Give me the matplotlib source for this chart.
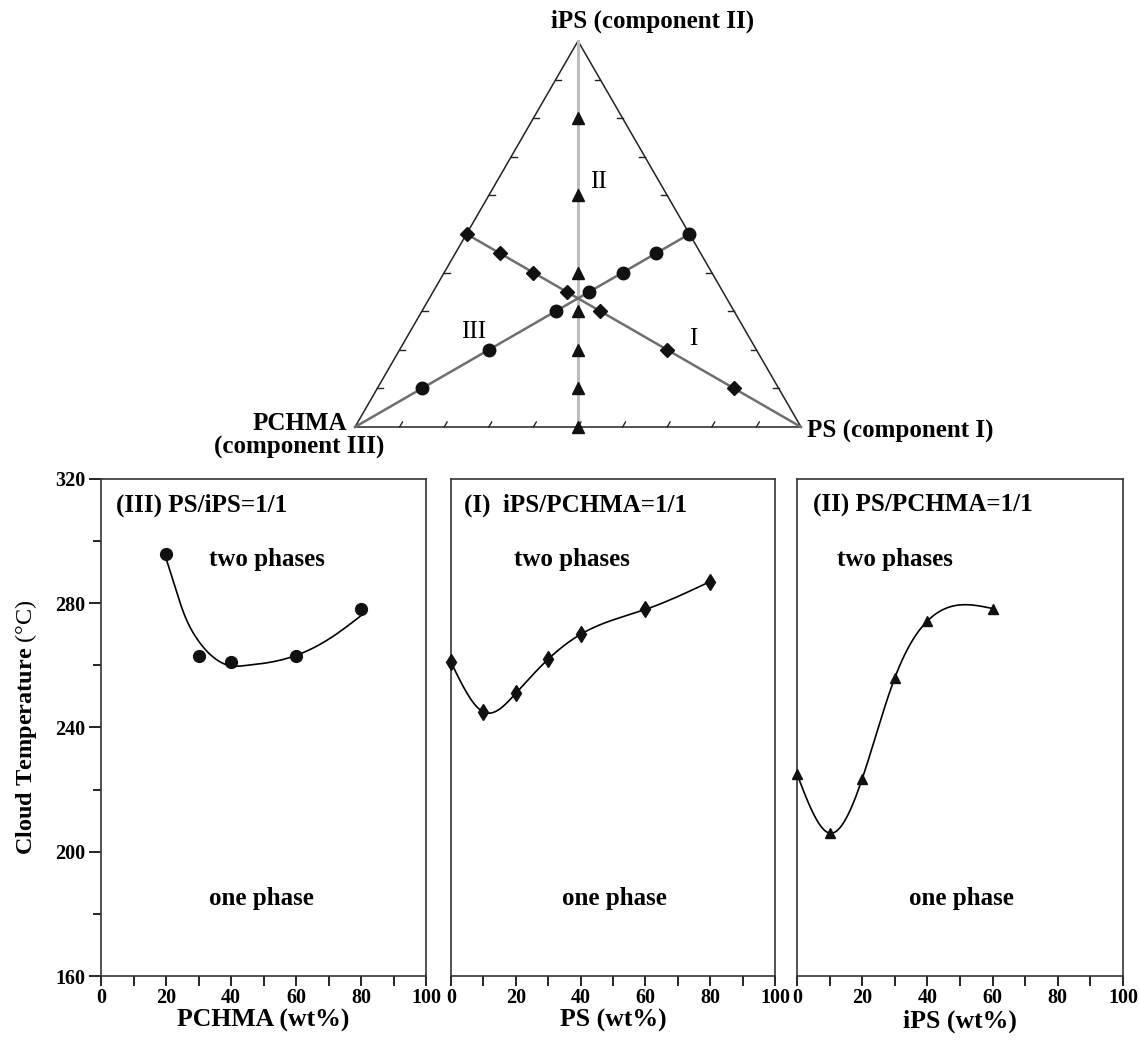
import numpy as np
import matplotlib
matplotlib.use("Agg")
import matplotlib.pyplot as plt

plt.rcParams['font.family'] = ['Liberation Serif', 'DejaVu Serif']
plt.rcParams['mathtext.fontset'] = 'custom'
plt.rcParams['mathtext.rm'] = 'Liberation Serif'

# ---------------- data ----------------
# Ternary compositions (wt% of the varied component along each line)
tern_levels = [0, 10, 20, 30, 40, 60, 80]

# Panel (III): PS/iPS = 1/1, PCHMA varies
pchma_x = [20, 30, 40, 60, 80]
pchma_T = [296, 263, 261, 263, 278]
# fitted curve
pchma_fit_x = [20, 22.4, 25.4, 29.5, 34.6, 39.7, 44.8, 50.9, 60.0, 71.2, 80.0]
pchma_fit_T = [294.5, 286.5, 277.0, 268.6, 262.6, 259.9, 260.0, 260.8, 263.2, 269.2, 276.0]

# Panel (I): iPS/PCHMA = 1/1, PS varies
ps_x = [0, 10, 20, 30, 40, 60, 80]
ps_T = [261, 245, 251, 262, 270, 278, 287]

# Panel (II): PS/PCHMA = 1/1, iPS varies
ips_x = [0, 10, 20, 30, 40, 60]
ips_T = [225, 206, 223.5, 256, 274.3, 278.3]

x_ticks = [0, 20, 40, 60, 80, 100]
y_ticks = [160, 200, 240, 280, 320]


def natural_spline(x, y, xs):
    x = np.asarray(x, float); y = np.asarray(y, float)
    n = len(x); h = np.diff(x)
    A = np.zeros((n, n)); r = np.zeros(n)
    A[0, 0] = A[-1, -1] = 1
    for i in range(1, n - 1):
        A[i, i - 1] = h[i - 1]; A[i, i] = 2 * (h[i - 1] + h[i]); A[i, i + 1] = h[i]
        r[i] = 3 * ((y[i + 1] - y[i]) / h[i] - (y[i] - y[i - 1]) / h[i - 1])
    c = np.linalg.solve(A, r)
    b = (y[1:] - y[:-1]) / h - h * (2 * c[:-1] + c[1:]) / 3
    d = (c[1:] - c[:-1]) / (3 * h)
    idx = np.clip(np.searchsorted(x, xs) - 1, 0, n - 2)
    dx = xs - x[idx]
    return y[idx] + b[idx] * dx + c[idx] * dx ** 2 + d[idx] * dx ** 3


W, H = 1139, 1041
fig = plt.figure(figsize=(W / 100, H / 100), dpi=100)


def rect(x0, y0, x1, y1):
    return [x0 / W, 1 - y1 / H, (x1 - x0) / W, (y1 - y0) / H]

# ---------------- ternary diagram ----------------
h = np.sqrt(3) / 2
tax = fig.add_axes(rect(355, 41, 801, 427))
tax.set_xlim(0, 1); tax.set_ylim(0, h)
tax.axis('off')


def tern(ps, ips, pc):
    s = ps + ips + pc
    ps, ips = ps / s, ips / s
    return ps + ips / 2, ips * h

# edges
tri = np.array([tern(0, 0, 1), tern(1, 0, 0), tern(0, 1, 0), tern(0, 0, 1)])
tax.plot(tri[:, 0], tri[:, 1], color='#222222', lw=1.1, clip_on=False, zorder=2)

# ticks on edges
L = 0.013
for k in range(1, 10):
    f = k / 10
    bx, by = tern(f, 0, 1 - f)
    tax.plot([bx, bx + L * 0.5], [by, by + L * h], color='#222222', lw=1, clip_on=False)
    lx, ly = tern(0, f, 1 - f)
    tax.plot([lx, lx + L], [ly, ly], color='#222222', lw=1, clip_on=False)
    rx, ry = tern(1 - f, f, 0)
    tax.plot([rx, rx - L], [ry, ry], color='#222222', lw=1, clip_on=False)

# line II (iPS varies, PS/PCHMA = 1/1)
lII = np.array([tern((100 - v) / 2, v, (100 - v) / 2) for v in [0, 100]])
tax.plot(lII[:, 0], lII[:, 1], color='#bdbdbd', lw=2.2, zorder=3, clip_on=False)
pII = np.array([tern((100 - v) / 2, v, (100 - v) / 2) for v in tern_levels])
tax.plot(pII[:, 0], pII[:, 1], ls='none', marker='^', ms=8, color='#111111', zorder=5, clip_on=False)

# line I (PS varies, iPS/PCHMA = 1/1)
lI = np.array([tern(v, (100 - v) / 2, (100 - v) / 2) for v in [0, 100]])
tax.plot(lI[:, 0], lI[:, 1], color='#6e6e6e', lw=1.8, zorder=3, clip_on=False)
pI = np.array([tern(v, (100 - v) / 2, (100 - v) / 2) for v in tern_levels])
tax.plot(pI[:, 0], pI[:, 1], ls='none', marker='D', ms=7, color='#111111', zorder=5, clip_on=False)

# line III (PCHMA varies, PS/iPS = 1/1)
lIII = np.array([tern((100 - v) / 2, (100 - v) / 2, v) for v in [0, 100]])
tax.plot(lIII[:, 0], lIII[:, 1], color='#6e6e6e', lw=1.8, zorder=3, clip_on=False)
pIII = np.array([tern((100 - v) / 2, (100 - v) / 2, v) for v in tern_levels])
tax.plot(pIII[:, 0], pIII[:, 1], ls='none', marker='o', ms=9, color='#111111', zorder=5, clip_on=False)

tax.text(0.545, 0.55, 'II', fontsize=18, ha='center', va='center')
tax.text(0.265, 0.213, 'III', fontsize=18, ha='center', va='center')
tax.text(0.758, 0.197, 'I', fontsize=18, ha='center', va='center')

tax.annotate('iPS (component II)', xy=(0.44, h), xytext=(0, 6), textcoords='offset points',
             ha='left', va='bottom', fontsize=18, fontweight='bold', annotation_clip=False)
tax.annotate('PS (component I)', xy=(1, 0), xytext=(4, -3), textcoords='offset points',
             ha='left', va='center', fontsize=18, fontweight='bold', annotation_clip=False)
tax.annotate('PCHMA\n(component III)', xy=(0, 0), xytext=(-40, -6), textcoords='offset points',
             ha='center', va='center', fontsize=18, fontweight='bold', linespacing=1.0,
             annotation_clip=False)

# ---------------- cloud-point panels ----------------
panels = [
    dict(r=(101, 479, 426, 976), x=pchma_x, y=pchma_T, fx=pchma_fit_x, fy=pchma_fit_T,
         m='o', ms=8.5, xl='PCHMA (wt%)', title='(III) PS/iPS=1/1', tp=(4.6, 311.6),
         two=33.1, one=33.1),
    dict(r=(451, 479, 775, 976), x=ps_x, y=ps_T, fx=None, fy=None,
         m='d', ms=8.5, xl='PS (wt%)', title='(I)  iPS/PCHMA=1/1', tp=(3.9, 311.6),
         two=19.3, one=34.2),
    dict(r=(797, 479, 1123, 976), x=ips_x, y=ips_T, fx=None, fy=None,
         m='^', ms=7.5, xl='iPS (wt%)', title='(II) PS/PCHMA=1/1', tp=(4.8, 311.6),
         two=12.4, one=34.4),
]

for i, p in enumerate(panels):
    ax = fig.add_axes(rect(*p['r']))
    ax.set_xlim(0, 100); ax.set_ylim(160, 320)
    if p['fx'] is not None:
        xs = np.linspace(p['fx'][0], p['fx'][-1], 300)
        ax.plot(xs, natural_spline(p['fx'], p['fy'], xs), color='black', lw=1.2)
    else:
        xs = np.linspace(p['x'][0], p['x'][-1], 400)
        ax.plot(xs, natural_spline(p['x'], p['y'], xs), color='black', lw=1.2)
    ax.plot(p['x'], p['y'], ls='none', marker=p['m'], ms=p['ms'], color='#111111',
            clip_on=False, zorder=5)
    ax.set_xticks(x_ticks)
    ax.set_xticks(np.arange(10, 100, 20), minor=True)
    ax.tick_params(axis='x', which='both', direction='out', length=7, width=1.2,
                   labelsize=14.5, pad=1.5, top=False)
    for lab in ax.get_xticklabels():
        lab.set_fontweight('bold')
    if i == 0:
        ax.set_yticks(y_ticks)
        ax.set_yticks(np.arange(180, 320, 40), minor=True)
        ax.tick_params(axis='y', which='major', direction='out', length=9, width=1.2,
                       labelsize=14.5, pad=2)
        ax.tick_params(axis='y', which='minor', direction='out', length=6, width=1.2)
        for lab in ax.get_yticklabels():
            lab.set_fontweight('bold')
        ax.set_ylabel(r'Cloud Temperature $\mathrm{(°C)}$', fontsize=17.5, fontweight='bold',
                      labelpad=12)
    else:
        ax.set_yticks([])
    for s in ax.spines.values():
        s.set_linewidth(1.2); s.set_color('#333333')
    ax.set_xlabel(p['xl'], fontsize=18.5, fontweight='bold', labelpad=1)
    ax.text(p['tp'][0], p['tp'][1], p['title'], fontsize=18, fontweight='bold',
            ha='left', va='center')
    ax.text(p['two'], 294, 'two phases', fontsize=18, fontweight='bold', ha='left', va='center')
    ax.text(p['one'], 185, 'one phase', fontsize=18, fontweight='bold', ha='left', va='center')

fig.savefig('out.png', dpi=100)
